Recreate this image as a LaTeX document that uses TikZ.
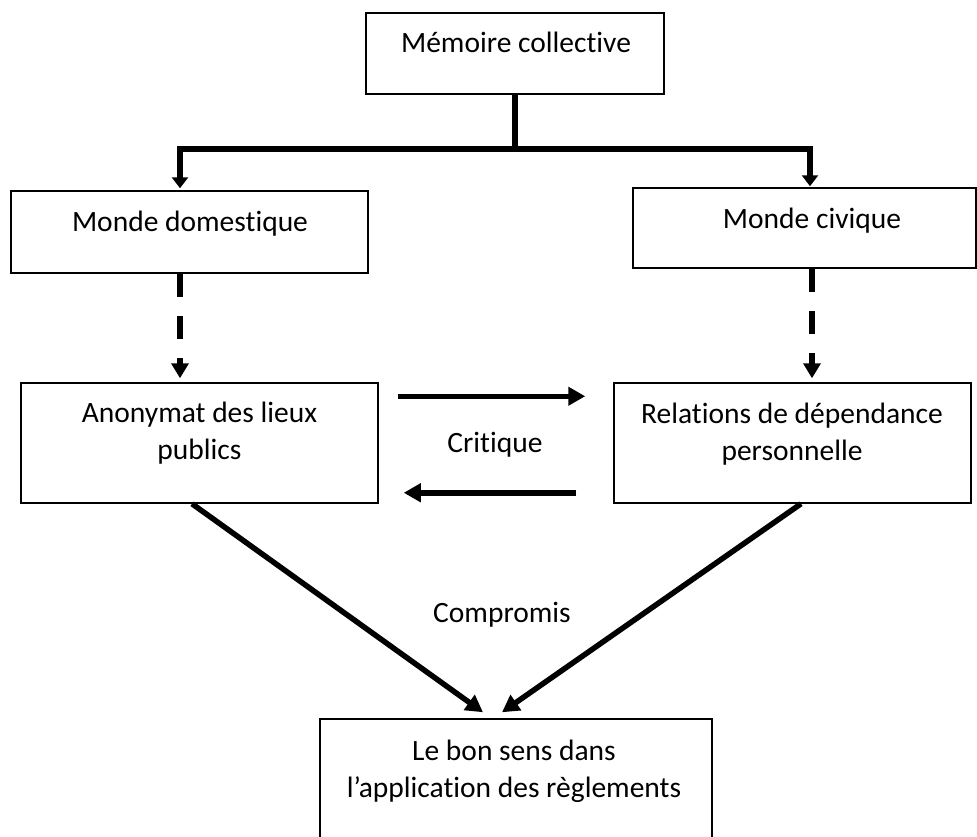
\documentclass[tikz,border=0pt]{standalone}
\usepackage{fontspec}
\setmainfont[Ligatures=NoCommon]{Carlito}
\usetikzlibrary{arrows.meta}
\begin{document}
\begin{tikzpicture}[x=1pt,y=-1pt,
  box/.style={draw, line width=1.5pt, inner sep=0pt},
  lbl/.style={font=\fontsize{29.5}{37}\selectfont, align=center, inner sep=0pt, anchor=base},
  conn/.style={line width=5.5pt},
  arr/.style={conn, -{Triangle[length=17pt,width=18pt]}},
  dasharr/.style={conn, dash pattern=on 23pt off 19pt, -{Triangle[length=15pt,width=17pt]}}
]
\useasboundingbox (0,0) rectangle (977,836);
\clip (0,0) rectangle (977,836);
\fill[white] (0,0) rectangle (977,836);

% boxes
\node[box, minimum width=298pt, minimum height=81pt] (mc) at (515,53.5) {};
\node[box, minimum width=357pt, minimum height=82pt] (md) at (189.5,232) {};
\node[box, minimum width=343pt, minimum height=80pt] (mv) at (804.5,228) {};
\node[box, minimum width=357pt, minimum height=120pt] (an) at (199.5,443) {};
\node[box, minimum width=357pt, minimum height=120pt] (rel) at (792.5,443) {};
\node[box, minimum width=392pt, minimum height=160pt] (bs) at (516,799) {};

% texts (multi-line nodes are anchored at the baseline of their last line)
\node[lbl] (tmc) at (516,52) {Mémoire collective};
\node[lbl] (tmd) at (190,231) {Monde domestique};
\node[lbl] (tmv) at (812,228) {Monde civique};
\node[lbl] (tan) at (199.5,459) {Anonymat des lieux\\publics};
\node[lbl] (trel) at (792,460) {Relations de dépendance\\personnelle};
\node[lbl] (tbs) at (514,797) {Le bon sens dans\\l’application des règlements};
\node[lbl] (tcr) at (495,452) {Critique};
\node[lbl] (tco) at (502,622) {Compromis};

% tree connectors
\coordinate (hl) at (180,149);
\coordinate (hr) at (810,149);
\draw[conn] (mc.south) -- (mc.south |- hl);
\draw[conn, {Triangle[length=11pt,width=16pt]}-{Triangle[length=11pt,width=16pt]}]
  ([shift={(0,-2)}]hl |- md.north) -- (hl) -- (hr) -- ([shift={(0,-1)}]hr |- mv.north);

% dashed connectors
\draw[dasharr, shorten >=4pt] (hl |- md.south) -- (hl |- an.north);
\draw[dasharr, shorten >=4pt] ([shift={(7.5,0)}]mv.south) -- ([shift={(19.5,0)}]rel.north);

% critique
\draw[arr] ([shift={(19,14)}]an.north east) -- ([shift={(-28,14)}]rel.north west);
\draw[arr] ([shift={(-37,-11)}]rel.south west) -- ([shift={(25,-11)}]an.south east);

% compromis
\draw[arr] ([shift={(-7.5,0)}]an.south) -- ([shift={(-33,-6)}]bs.north);
\draw[arr] ([shift={(8.5,0)}]rel.south) -- ([shift={(-14,-6)}]bs.north);
\end{tikzpicture}
\end{document}
